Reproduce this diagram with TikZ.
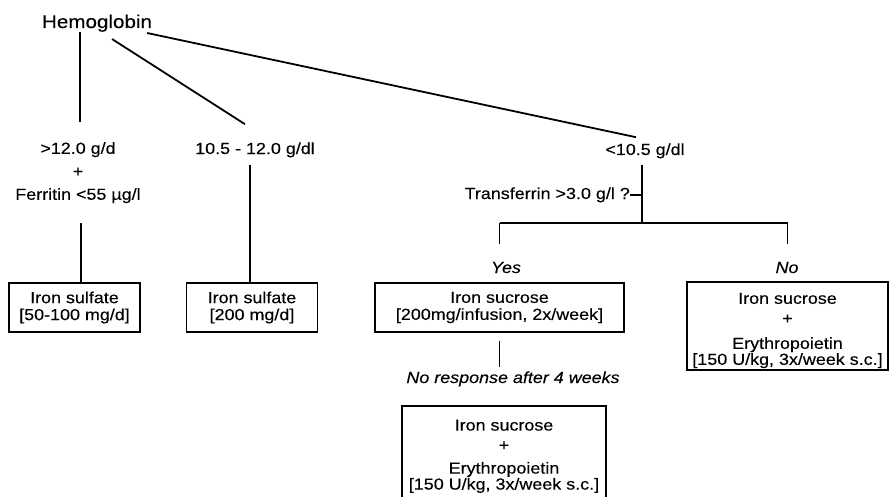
\documentclass[tikz,border=0pt]{standalone}
\usepackage{fontspec}
\setmainfont{Liberation Sans}[FakeStretch=1.12, FakeBold=0.2]
\usetikzlibrary{positioning, calc}
\newcommand{\chartfont}{\fontsize{16}{17}\selectfont\lineskiplimit=-20pt}

\begin{document}
\begin{tikzpicture}[
    x=1pt, y=-1pt,
    every node/.style={font=\chartfont, inner sep=0pt},
    title/.style={font=\fontsize{18.4}{20}\selectfont},
    cond/.style={align=center},
    answer/.style={font=\chartfont\itshape},
    therapy/.style={draw, line width=1.5pt, align=center, inner sep=0pt},
    link/.style={line width=1.8pt}
]
\useasboundingbox (0,0) rectangle (890,497);

% Root
\node[title, anchor=base] (hb) at (97,28) {Hemoglobin};

% Hemoglobin ranges
\node[cond, anchor=north, font=\fontsize{16}{23}\selectfont] (c1) at (78,142) {>12.0 g/d\\+\\Ferritin <55 µg/l};
\node[anchor=base] (c2) at (255,154) {10.5 - 12.0 g/dl};
\node[anchor=base] (c3) at (645,155) {<10.5 g/dl};

\draw[link] ([xshift=2pt]hb.south -| c1.north) -- ([shift={(2pt,20pt)}]c1.north);
\draw[link] ([shift={(15pt,-7pt)}]hb.south) -- ([shift={(-10pt,18pt)}]c2.north);
\draw[link] ([shift={(-5pt,-1pt)}]hb.south east) -- ([shift={(-9pt,6pt)}]c3.north);

% Oral iron
\node[therapy, minimum width=131pt, minimum height=49pt] (b1) at (74.5,307.5) {Iron sulfate\\{}[50-100 mg/d]};
\node[therapy, minimum width=131pt, minimum height=49pt] (b2) at (252,307.5) {Iron sulfate\\{}[200 mg/d]};

\draw[link] ([shift={(3pt,-20pt)}]c1.south) -- ([xshift=3pt]c1.south |- b1.north);
\draw[link] ([shift={(-2pt,-7pt)}]c2.south -| b2.north) -- ([xshift=-2pt]b2.north);

% Transferrin question
\coordinate (fork) at (642,223);
\node[anchor=base east] (tf) at (630,199) {Transferrin >3.0 g/l ?};
\node[answer, anchor=base] (yes) at (506,273) {Yes};
\node[answer, anchor=base] (no) at (787,273) {No};

\node[therapy, minimum width=249pt, minimum height=49pt] (b3) at (499.5,307.5) {Iron sucrose\\{}[200mg/infusion, 2x/week]};
\node[therapy, minimum width=201pt, minimum height=88pt] (b4) at (787.5,326) {\rule{0pt}{20pt}Iron sucrose\\[3pt]+\\[8pt]Erythropoietin\\[-1pt]{}[150 U/kg, 3x/week s.c.]};

\draw[link] ([yshift=-6pt]c3.south -| fork) -- (fork);
\draw[link] (tf.east) -- (tf.east -| fork);
\draw[link] (fork -| b3.north) -- (fork -| b4.north);
\draw[link] (fork -| b3.north) -- ([yshift=18pt]yes.north -| b3.north);
\draw[link] (fork -| b4.north) -- ([yshift=18pt]no.north -| b4.north);

% No response
\node[answer, anchor=base] (nr) at (513,383) {No response after 4 weeks};
\node[therapy, anchor=north, minimum width=204pt, minimum height=94pt] (b5) at (504,405) {\rule{0pt}{18pt}Iron sucrose\\[3pt]+\\[6pt]Erythropoietin\\[-1pt]{}[150 U/kg, 3x/week s.c.]};

\draw[link] ([yshift=-8pt]b3.south) -- ([yshift=4pt]nr.north -| b3.south);

\end{tikzpicture}
\end{document}
